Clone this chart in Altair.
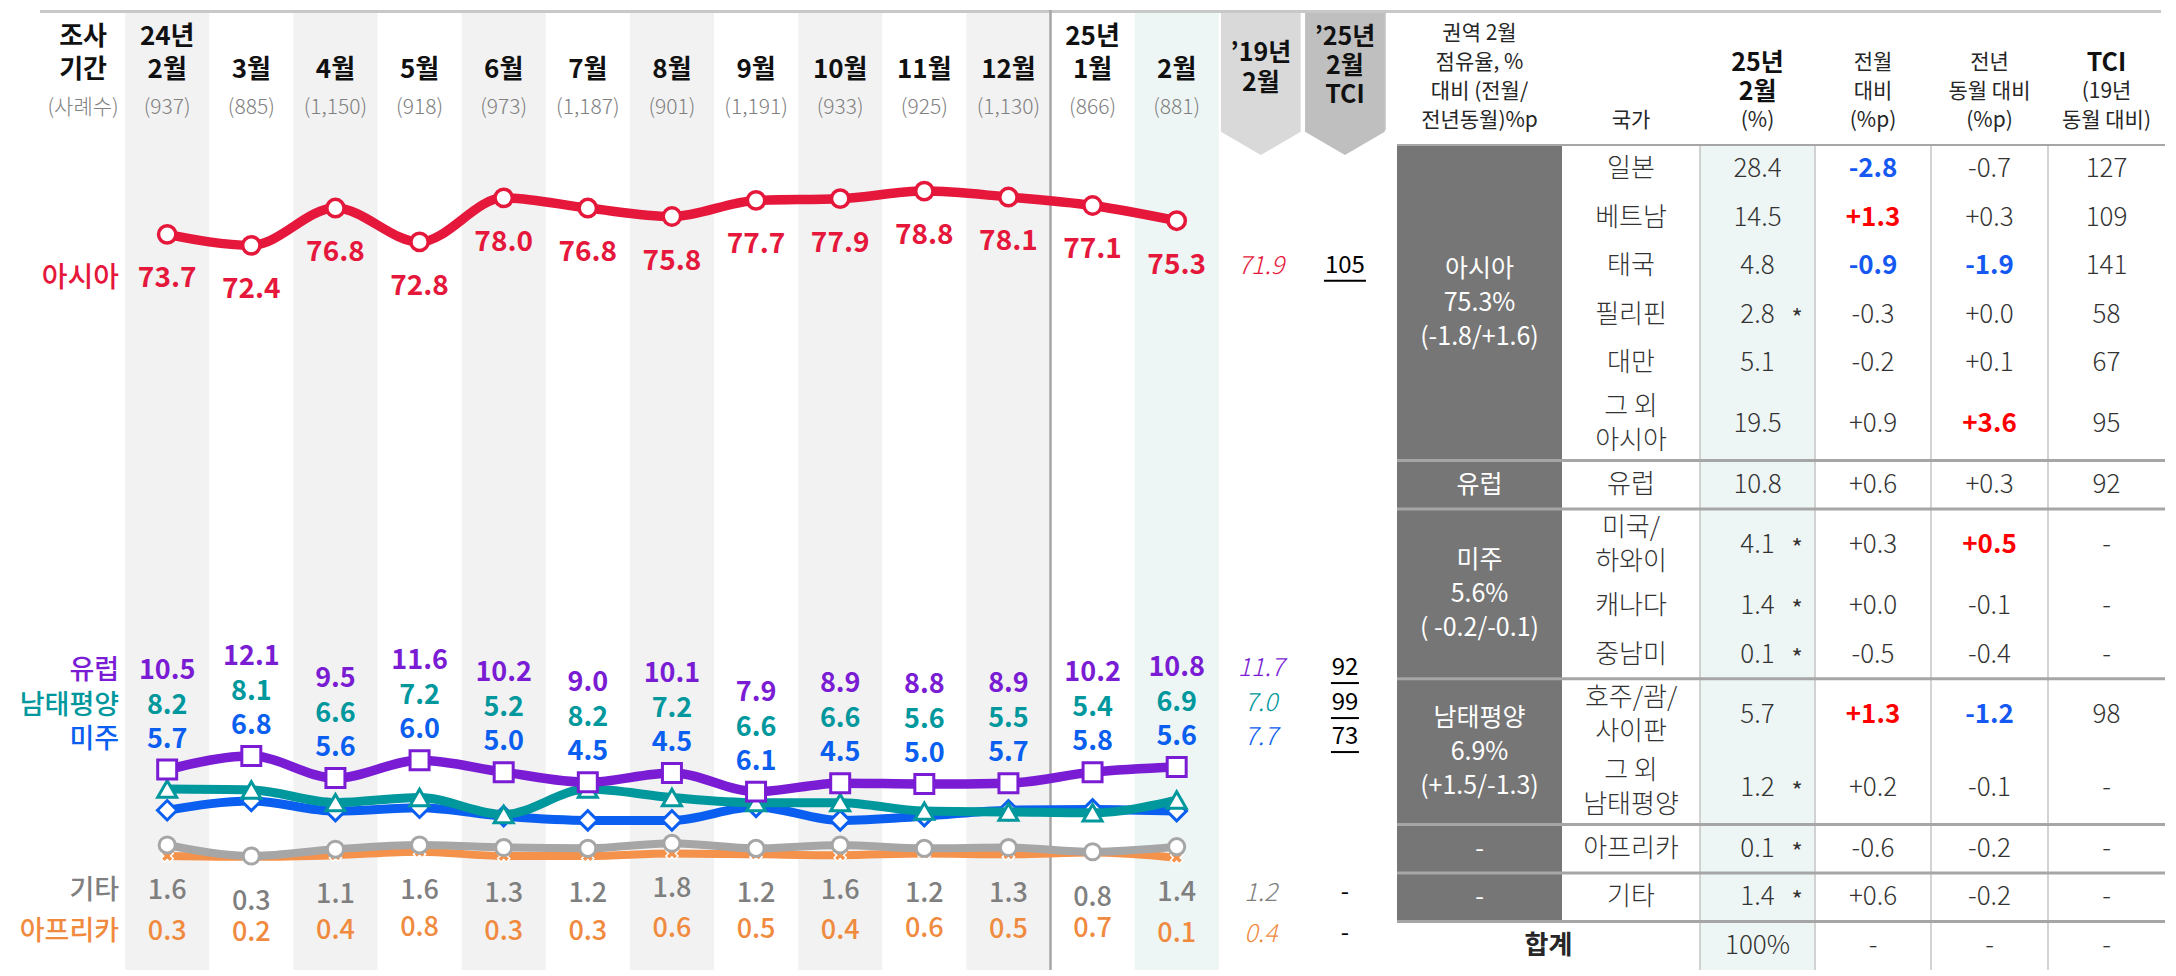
import altair as alt
import pandas as pd

FONT = "Noto Sans CJK KR"

# ---------------- data: left chart ----------------
year_lbl = ["24년", "", "", "", "", "", "", "", "", "", "", "25년", ""]
month_lbl = ["2월", "3월", "4월", "5월", "6월", "7월", "8월", "9월", "10월", "11월", "12월", "1월", "2월"]
counts = ["(937)", "(885)", "(1,150)", "(918)", "(973)", "(1,187)", "(901)",
          "(1,191)", "(933)", "(925)", "(1,130)", "(866)", "(881)"]
asia = [73.7, 72.4, 76.8, 72.8, 78.0, 76.8, 75.8, 77.7, 77.9, 78.8, 78.1, 77.1, 75.3]
europe = [10.5, 12.1, 9.5, 11.6, 10.2, 9.0, 10.1, 7.9, 8.9, 8.8, 8.9, 10.2, 10.8]
oceania = [8.2, 8.1, 6.6, 7.2, 5.2, 8.2, 7.2, 6.6, 6.6, 5.6, 5.5, 5.4, 6.9]
americas = [5.7, 6.8, 5.6, 6.0, 5.0, 4.5, 4.5, 6.1, 4.5, 5.0, 5.7, 5.8, 5.6]
others = [1.6, 0.3, 1.1, 1.6, 1.3, 1.2, 1.8, 1.2, 1.6, 1.2, 1.3, 0.8, 1.4]
africa = [0.3, 0.2, 0.4, 0.8, 0.3, 0.3, 0.6, 0.5, 0.4, 0.6, 0.5, 0.7, 0.1]
region_names = ["아시아", "유럽", "남태평양", "미주", "기타", "아프리카"]
feb19 = ["71.9", "11.7", "7.0", "7.7", "1.2", "0.4"]
tci_25 = ["105", "92", "99", "73", "-", "-"]

# ---------------- data: right table ----------------
groups = ["아시아\n75.3%\n(-1.8/+1.6)", "유럽", "미주\n5.6%\n( -0.2/-0.1)",
          "남태평양\n6.9%\n(+1.5/-1.3)", "-", "-"]
group_size = [6, 1, 3, 2, 1, 1]
countries = ["일본", "베트남", "태국", "필리핀", "대만", "그 외\n아시아", "유럽",
             "미국/\n하와이", "캐나다", "중남미", "호주/괌/\n사이판", "그 외\n남태평양",
             "아프리카", "기타"]
share = ["28.4", "14.5", "4.8", "2.8", "5.1", "19.5", "10.8", "4.1", "1.4", "0.1",
         "5.7", "1.2", "0.1", "1.4"]
small_sample = [False, False, False, True, False, False, False, True, True, True,
                False, True, True, True]
mom = ["-2.8", "+1.3", "-0.9", "-0.3", "-0.2", "+0.9", "+0.6", "+0.3", "+0.0", "-0.5",
       "+1.3", "+0.2", "-0.6", "+0.6"]
mom_hl = [True, True, True, False, False, False, False, False, False, False,
          True, False, False, False]
yoy = ["-0.7", "+0.3", "-1.9", "+0.0", "+0.1", "+3.6", "+0.3", "+0.5", "-0.1", "-0.4",
       "-1.2", "-0.1", "-0.2", "-0.2"]
yoy_hl = [False, False, True, False, False, True, False, True, False, False,
          True, False, False, False]
tci = ["127", "109", "141", "58", "67", "95", "92", "-", "-", "-", "98", "-", "-", "-"]
total_row = ["합계", "100%", "-", "-", "-"]

# ---------------- layout ----------------
W1, W2, H = 1389, 768, 960
keys = [f"m{i}" for i in range(len(asia))]
cats = ["name"] + keys + ["y19", "tci"]
BAND = (1379 - 33) / len(cats)

xs = alt.Scale(type="band", domain=cats, range=[33, 1379], paddingInner=0, paddingOuter=0)
ys = alt.Scale(domain=[-13.16, 100.18], nice=False, zero=False)


def X(**kw):
    return alt.X("c:N", scale=xs, axis=None, **kw)


def Y(f):
    return alt.Y(f"{f}:Q", scale=ys, axis=None)


one = pd.DataFrame({"k": [0]})
L = []

# column shading
shade = pd.DataFrame({"c": keys, "kind": (["g", "w"] * 7)[:12] + ["t"]})
L.append(alt.Chart(shade).transform_filter("datum.kind == 'g'").mark_rect(color="#F2F2F2")
         .encode(x=X(), y=alt.value(0), y2=alt.value(H)))
L.append(alt.Chart(shade).transform_filter("datum.kind == 't'").mark_rect(color="#EEF6F5")
         .encode(x=X(), y=alt.value(0), y2=alt.value(H)))

# arrow header boxes
BOX = "M -0.55 -1 L 0.55 -1 L 0.55 0.68 L 0 1 L -0.55 0.68 Z"
for c, col in [("y19", "#D9D9D9"), ("tci", "#BFBFBF")]:
    L.append(alt.Chart(pd.DataFrame({"c": [c]}))
             .mark_point(shape=BOX, size=21025, filled=True, color=col, opacity=1, strokeWidth=0)
             .encode(x=X(), y=alt.value(72.5)))

# top line and period separator
L.append(alt.Chart(one).mark_rule(color="#C8C8C8", strokeWidth=3)
         .encode(x=alt.value(32), x2=alt.value(W1), y=alt.value(1.5)))
L.append(alt.Chart(pd.DataFrame({"c": ["m11"]})).mark_rule(color="#A6A6A6", strokeWidth=2.5)
         .encode(x=X(bandPosition=0), y=alt.value(0), y2=alt.value(H)))


def head(cs, ts, ypx, **mk):
    d = pd.DataFrame({"c": cs, "t": ts})
    d = d[d["t"] != ""]
    base = dict(font=FONT, fontSize=26, fontWeight="bold", color="#111111", baseline="middle")
    base.update(mk)
    return alt.Chart(d).mark_text(**base).encode(x=X(), y=alt.value(ypx), text="t:N")


L.append(head(["name"] + keys, ["조사"] + year_lbl, 27))
L.append(head(["name"] + keys, ["기간"] + month_lbl, 60))
L.append(head(["name"] + keys, ["(사례수)"] + counts, 98, fontSize=21, fontWeight=300, color="#808080"))
L.append(head(["y19"], ["’19년"], 43, fontSize=25))
L.append(head(["y19"], ["2월"], 73, fontSize=25))
L.append(head(["tci"], ["’25년"], 27, fontSize=25))
L.append(head(["tci"], ["2월"], 56, fontSize=25))
L.append(head(["tci"], ["TCI"], 85, fontSize=25))


def series_layers(idx, vals, anchors, dy, lcol, tcol, shape, size, lw, wt, fs=27,
                  fill="white", stroke=None, sw=3, angle=0):
    d = pd.DataFrame({"c": keys, "v": vals, "a": anchors, "t": [f"{x:.1f}" for x in vals]})
    out = []
    out.append(alt.Chart(d).mark_line(color=lcol, strokeWidth=lw, interpolate="monotone")
               .encode(x=X(), y=Y("v")))
    out.append(alt.Chart(d).mark_point(shape=shape, size=size, angle=angle, filled=True, fill=fill,
                                       stroke=stroke or lcol, strokeWidth=sw, opacity=1)
               .encode(x=X(), y=Y("v")))
    out.append(alt.Chart(d).mark_text(dy=dy, color=tcol, fontSize=fs, fontWeight=wt, font=FONT)
               .encode(x=X(), y=Y("a"), text="t:N"))
    nm = pd.DataFrame({"c": ["name"], "a": [anchors[0]], "t": [region_names[idx]]})
    out.append(alt.Chart(nm).mark_text(dy=dy, dx=-6, align="right", color=tcol, fontSize=fs,
                                       fontWeight=500, font=FONT)
               .encode(x=X(bandPosition=1), y=Y("a"), text="t:N"))
    od = pd.DataFrame({"c": ["y19"], "a": [anchors[-1]], "t": [feb19[idx]]})
    out.append(alt.Chart(od).mark_text(dy=dy, color=tcol, fontSize=25, fontStyle="italic",
                                       fontWeight=300, font=FONT)
               .encode(x=X(), y=Y("a"), text="t:N"))
    td = pd.DataFrame({"c": ["tci"], "a": [anchors[-1]], "t": [tci_25[idx]]})
    out.append(alt.Chart(td).mark_text(dy=dy, color="#000000", fontSize=24, font=FONT)
               .encode(x=X(), y=Y("a"), text="t:N"))
    if tci_25[idx] != "-":
        half = len(tci_25[idx]) * 7.0 / BAND
        out.append(alt.Chart(td).mark_rule(color="#000000", strokeWidth=2, yOffset=dy + 15)
                   .encode(x=X(bandPosition=0.5 - half),
                           x2=alt.X2("c:N", bandPosition=0.5 + half), y=Y("a")))
    return out


RED, PURPLE, TEAL, BLUE = "#E5173B", "#7A1CD4", "#00979D", "#0A5EF0"
GREYL, GREYT, ORANGE = "#A6A6A6", "#7F7F7F", "#F4914A"

L += series_layers(5, africa, africa, 76, ORANGE, "#F08A3E", "cross", 150, 8, 500,
                   fill=ORANGE, stroke="white", sw=1.5, angle=45)
L += series_layers(4, others, others, 46, GREYL, GREYT, "circle", 260, 8, 500)
L += series_layers(3, americas, europe, -30, BLUE, BLUE, "diamond", 380, 9, "bold")
L += series_layers(2, oceania, europe, -64, TEAL, TEAL, "triangle-up", 360, 9, "bold")
L += series_layers(1, europe, europe, -99, PURPLE, PURPLE, "square", 360, 9.5, "bold")
L += series_layers(0, asia, asia, 45, RED, RED, "circle", 300, 9.5, "bold", fs=28, sw=3.5)

left = alt.layer(*L).properties(width=W1, height=H)

# ---------------- table ----------------
col_w = [165, 138, 115, 116, 117, 117]
edges = [0]
for w in col_w:
    edges.append(edges[-1] + w)
centers = [(edges[i] + edges[i + 1]) / 2 for i in range(len(col_w))]

rows = pd.DataFrame({"country": countries})
rows["h"] = [1.5 if "\n" in c else 1.0 for c in countries]
rows["bot"] = rows["h"].cumsum()
rows["top"] = rows["bot"] - rows["h"]
rows["mid"] = (rows["top"] + rows["bot"]) / 2
body_units = float(rows["bot"].iloc[-1])
total_units = body_units + 1
HDR = 135
unit = (H - HDR) / total_units
LH = 34

txs = alt.Scale(domain=[0, W2], range=[0, W2], nice=False, zero=False)
tys = alt.Scale(domain=[-HDR / unit, total_units], range=[0, H], nice=False, zero=False)


def TX(f="x"):
    return alt.X(f"{f}:Q", scale=txs, axis=None)


def TY(f="y"):
    return alt.Y(f"{f}:Q", scale=tys, axis=None)


T = []
# shaded % column
T.append(alt.Chart(pd.DataFrame({"x": [edges[2]], "x2": [edges[3]], "y": [0.0], "y2": [total_units]}))
         .mark_rect(color="#EEF6F5").encode(x=TX(), x2="x2:Q", y=TY(), y2="y2:Q"))

# dark region cells
g_rows = []
start = 0
for name, n in zip(groups, group_size):
    top = float(rows["top"].iloc[start])
    bot = float(rows["bot"].iloc[start + n - 1])
    g_rows.append({"x": edges[0], "x2": edges[1], "y": top, "y2": bot,
                   "t": name, "xc": centers[0], "ym": (top + bot) / 2})
    start += n
gdf = pd.DataFrame(g_rows)
T.append(alt.Chart(gdf).mark_rect(color="#767676").encode(x=TX(), x2="x2:Q", y=TY(), y2="y2:Q"))

# lines
T.append(alt.Chart(pd.DataFrame({"x": edges[2:6]})).mark_rule(color="#C4C4C4", strokeWidth=1.5)
         .encode(x=TX(), y=alt.value(HDR), y2=alt.value(H)))
T.append(alt.Chart(pd.DataFrame({"y": [0.0]})).mark_rule(color="#A6A6A6", strokeWidth=2)
         .encode(x=alt.value(0), x2=alt.value(W2), y=TY()))
T.append(alt.Chart(pd.DataFrame({"y": list(gdf["y2"])})).mark_rule(color="#A6A6A6", strokeWidth=3)
         .encode(x=alt.value(0), x2=alt.value(W2), y=TY()))
T.append(alt.Chart(one).mark_rule(color="#C8C8C8", strokeWidth=3)
         .encode(x=alt.value(0), x2=alt.value(W2 - 4), y=alt.value(1.5)))
T.append(alt.Chart(one).mark_rule(color="#BFBFBF", strokeWidth=1.5)
         .encode(x=alt.value(-12), y=alt.value(2), y2=alt.value(120)))


def ttext(df, lh=LH, **mk):
    df = df.copy()
    # centre multi-line blocks on their row
    df["y"] = df["y"] - df["t"].str.count("\n") * (lh / 2) / unit
    base = dict(font=FONT, fontSize=26, fontWeight=300, color="#333333", lineBreak="\n",
                lineHeight=lh, baseline="middle")
    base.update(mk)
    enc = dict(x=TX(), y=TY(), text="t:N")
    if "col" in df.columns:
        enc["color"] = alt.Color("col:N", scale=None)
    return alt.Chart(df).mark_text(**base).encode(**enc)


# header
hdr_lines = [24, 53, 82, 111]
hdr = [
    (0, ["권역 2월", "점유율, %", "대비 (전월/", "전년동월)%p"], [False] * 4),
    (1, ["", "", "", "국가"], [False] * 4),
    (2, ["", "25년", "2월", "(%)"], [False, True, True, False]),
    (3, ["", "전월", "대비", "(%p)"], [False] * 4),
    (4, ["", "전년", "동월 대비", "(%p)"], [False] * 4),
    (5, ["", "TCI", "(19년", "동월 대비)"], [False, True, False, False]),
]
hn, hb = [], []
for ci, texts, bolds in hdr:
    for li, (t, b) in enumerate(zip(texts, bolds)):
        if t:
            rec = {"x": centers[ci], "y": (hdr_lines[li] - HDR) / unit, "t": t}
            (hb if b else hn).append(rec)
T.append(ttext(pd.DataFrame(hn), fontSize=21, fontWeight=400, color="#262626"))
T.append(ttext(pd.DataFrame(hb), fontSize=25, fontWeight="bold", color="#111111"))

# group text
T.append(ttext(gdf[["xc", "ym", "t"]].rename(columns={"xc": "x", "ym": "y"}),
               color="white", fontWeight=400, fontSize=25))

# body
cells = []
hl = []
for i, r in rows.iterrows():
    y = r["mid"]
    cells.append({"x": centers[1], "y": y, "t": countries[i]})
    cells.append({"x": centers[2], "y": y, "t": share[i]})
    cells.append({"x": centers[5], "y": y, "t": tci[i]})
    for ci, vals, flags in [(3, mom, mom_hl), (4, yoy, yoy_hl)]:
        rec = {"x": centers[ci], "y": y, "t": vals[i]}
        if flags[i]:
            rec["col"] = "#FF0000" if vals[i].startswith("+") else "#1558F2"
            hl.append(rec)
        else:
            cells.append(rec)
T.append(ttext(pd.DataFrame(cells)))
T.append(ttext(pd.DataFrame(hl), fontWeight="bold"))
stars = pd.DataFrame({"x": [edges[2] + 97] * sum(small_sample),
                      "y": [m for m, s in zip(rows["mid"], small_sample) if s],
                      "t": ["*"] * sum(small_sample)})
T.append(ttext(stars, fontSize=24, dy=5, fontWeight=400))

# total row
ty_tot = body_units + 0.5
tot = pd.DataFrame({"x": [edges[2] / 2, centers[2], centers[3], centers[4], centers[5]],
                    "y": [ty_tot] * 5, "t": total_row})
T.append(ttext(tot.iloc[:1], fontWeight="bold", fontSize=26, color="#262626"))
T.append(ttext(tot.iloc[1:]))

table = alt.layer(*T).properties(width=W2, height=H)

chart = (alt.hconcat(left, table, spacing=0, bounds="flush")
         .properties(padding=0, background="white")
         .configure_view(stroke=None))
chart.save("out.html", embed_options={"renderer": "svg", "actions": False})
